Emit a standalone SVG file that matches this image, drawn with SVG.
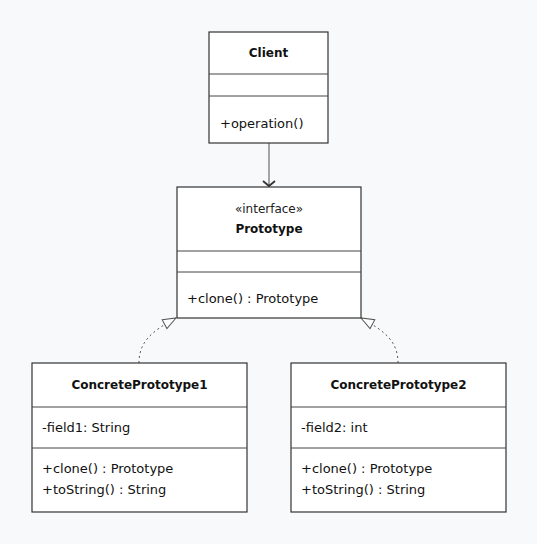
<svg xmlns="http://www.w3.org/2000/svg" width="537" height="544" viewBox="0 0 537 544">
<defs>
<style>
.box{fill:#ffffff;stroke:#333333;stroke-width:1.2}
.div{stroke:#444444;stroke-width:1}
.t{font-family:"DejaVu Sans","Liberation Sans",sans-serif;font-size:13px;fill:#111111}
.b{font-family:"DejaVu Sans","Liberation Sans",sans-serif;font-size:12px;font-weight:bold;fill:#111111;text-anchor:middle}
.s{font-family:"DejaVu Sans","Liberation Sans",sans-serif;font-size:12px;fill:#222222;text-anchor:middle}
.dash{fill:none;stroke:#555555;stroke-width:1;stroke-dasharray:2,3}
</style>
<marker id="open" markerUnits="userSpaceOnUse" markerWidth="14" markerHeight="14" refX="6" refY="7" orient="auto">
<path d="M1,1 L6,7 L1,13" fill="none" stroke="#333333" stroke-width="1.8"/>
</marker>
<marker id="tri" markerUnits="userSpaceOnUse" markerWidth="16" markerHeight="14" refX="14" refY="6" orient="auto">
<path d="M1,1 L14,6 L1,11 Z" fill="#ffffff" stroke="#555555" stroke-width="1"/>
</marker>
</defs>
<rect x="0" y="0" width="537" height="544" fill="#f8f9fb"/>
<g id="connectors">
<line x1="269" y1="143" x2="269" y2="186" stroke="#888888" stroke-width="1.5" marker-end="url(#open)"/>
<path class="dash" d="M139,363 C139,343 150,332 176,318" marker-end="url(#tri)"/>
<path class="dash" d="M398,363 C398,343 387,332 361,318" marker-end="url(#tri)"/>
</g>
<g id="client">
<rect class="box" x="209" y="32" width="119" height="111"/>
<line class="div" x1="209" y1="74" x2="328" y2="74"/>
<line class="div" x1="209" y1="96" x2="328" y2="96"/>
<text class="b" x="268.5" y="57">Client</text>
<text class="t" x="220" y="128">+operation()</text>
</g>
<g id="prototype">
<rect class="box" x="177" y="187" width="184" height="131"/>
<line class="div" x1="177" y1="251" x2="361" y2="251"/>
<line class="div" x1="177" y1="272" x2="361" y2="272"/>
<text class="s" x="269" y="213">«interface»</text>
<text class="b" x="269" y="233">Prototype</text>
<text class="t" x="187" y="303">+clone() : Prototype</text>
</g>
<g id="concrete1">
<rect class="box" x="32" y="363" width="215" height="149"/>
<line class="div" x1="32" y1="407" x2="247" y2="407"/>
<line class="div" x1="32" y1="448" x2="247" y2="448"/>
<text class="b" x="139.5" y="389">ConcretePrototype1</text>
<text class="t" x="42" y="432">-field1: String</text>
<text class="t" x="42" y="473">+clone() : Prototype</text>
<text class="t" x="42" y="494">+toString() : String</text>
</g>
<g id="concrete2">
<rect class="box" x="291" y="363" width="215" height="149"/>
<line class="div" x1="291" y1="407" x2="506" y2="407"/>
<line class="div" x1="291" y1="448" x2="506" y2="448"/>
<text class="b" x="398.5" y="389">ConcretePrototype2</text>
<text class="t" x="301" y="432">-field2: int</text>
<text class="t" x="301" y="473">+clone() : Prototype</text>
<text class="t" x="301" y="494">+toString() : String</text>
</g>
</svg>
